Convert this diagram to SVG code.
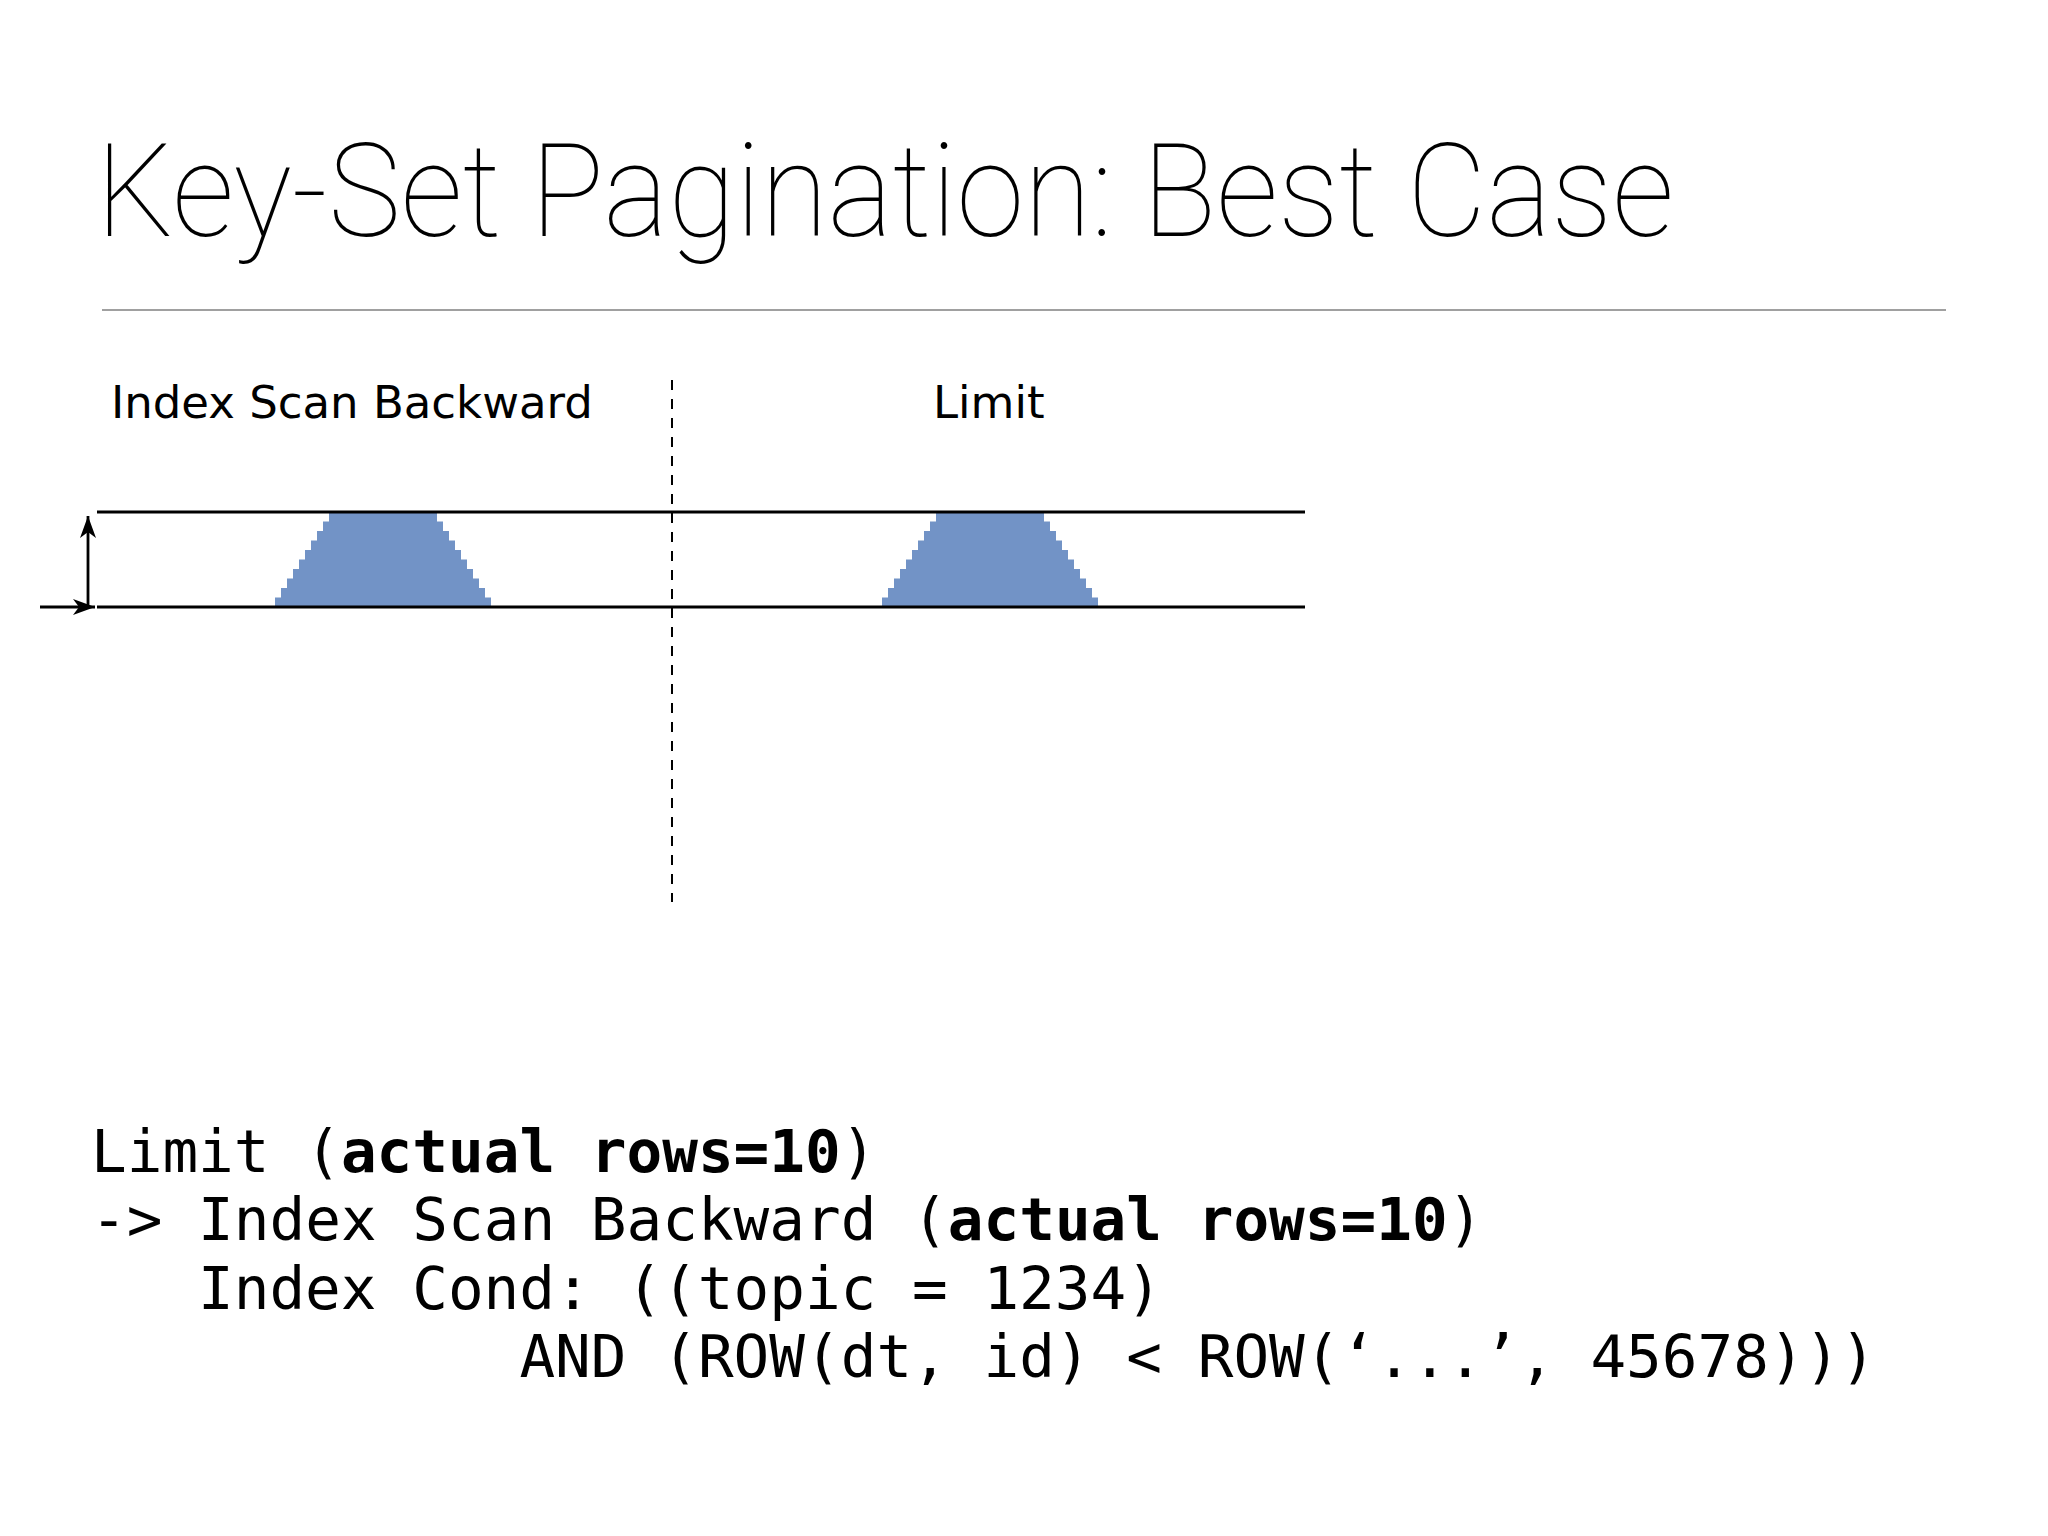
<svg xmlns="http://www.w3.org/2000/svg" width="2048" height="1536" viewBox="0 0 2048 1536">
<style>
.title{font-family:Roboto,"Liberation Sans",sans-serif;font-weight:100;font-size:130px;fill:#000}
.label{font-family:"DejaVu Sans",sans-serif;font-size:45px;fill:#000}
.code{font-family:"DejaVu Sans Mono",monospace;font-size:59.3px;fill:#000}
.b{font-weight:bold}
.rail{stroke:#000;stroke-width:3;fill:none}
.arr{stroke:#000;stroke-width:2.8;fill:none}
.trap{fill:#7293c6}
</style>
<defs>
<marker id="ah" viewBox="0 0 22 16" refX="22" refY="8" markerWidth="22" markerHeight="16" markerUnits="userSpaceOnUse" orient="auto">
<path d="M0,0 L22,8 L0,16 L6,8 Z" fill="#000"/>
</marker>
<path id="trapShape" d="M329,512 H437 v9.5 h6 v9.5 h6 v9.5 h6 v9.5 h6 v9.5 h6 v9.5 h6 v9.5 h6 v9.5 h6 v9.5 h6 v9.5 H275 v-9.5 h6 v-9.5 h6 v-9.5 h6 v-9.5 h6 v-9.5 h6 v-9.5 h6 v-9.5 h6 v-9.5 h6 v-9.5 h6 v-9.5 Z"/>
</defs>
<rect width="2048" height="1536" fill="#fff"/>
<g id="title">
<text class="title" x="96" y="236" textLength="1578" lengthAdjust="spacingAndGlyphs">Key-Set Pagination: Best Case</text>
<line x1="102" y1="310" x2="1946" y2="310" stroke="#a0a0a0" stroke-width="2"/>
</g>
<g id="index-scan">
<text class="label" x="111" y="418">Index Scan Backward</text>
<use href="#trapShape" class="trap"/>
</g>
<g id="limit">
<text class="label" x="933" y="418">Limit</text>
<use href="#trapShape" class="trap" transform="translate(607,0)"/>
</g>
<g id="connectors">
<line class="rail" x1="97" y1="512" x2="1305" y2="512"/>
<line class="rail" x1="97" y1="607" x2="1305" y2="607"/>
<line x1="672" y1="380" x2="672" y2="902" stroke="#000" stroke-width="2" stroke-dasharray="10 9"/>
<line class="arr" x1="88" y1="607" x2="88" y2="516" marker-end="url(#ah)"/>
<line class="arr" x1="40" y1="607" x2="95" y2="607" marker-end="url(#ah)"/>
</g>
<g id="code" xml:space="preserve">
<text class="code" x="91" y="1172">Limit (<tspan class="b">actual rows=10</tspan>)</text>
<text class="code" x="91" y="1240">-&gt; Index Scan Backward (<tspan class="b">actual rows=10</tspan>)</text>
<text class="code" x="198" y="1309">Index Cond: ((topic = 1234)</text>
<text class="code" x="519.4" y="1377">AND (ROW(dt, id) &lt; ROW(‘...’, 45678)))</text>
</g>
</svg>
